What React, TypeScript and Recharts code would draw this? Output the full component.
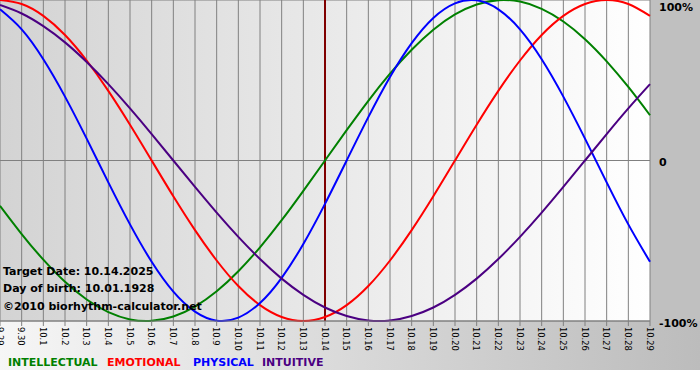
import React from 'react';
import { LineChart, Line, XAxis, YAxis, CartesianGrid, ReferenceLine } from 'recharts';

const dates = ['9.29', '9.30', '10.1', '10.2', '10.3', '10.4', '10.5', '10.6', '10.7', '10.8', '10.9', '10.10', '10.11', '10.12', '10.13', '10.14', '10.15', '10.16', '10.17', '10.18', '10.19', '10.20', '10.21', '10.22', '10.23', '10.24', '10.25', '10.26', '10.27', '10.28', '10.29'];

const intellectual = [-28.2, -45.8, -61.8, -75.6, -86.6, -94.5, -99.0, -99.9, -97.2, -91.0, -81.5, -69.0, -54.1, -37.2, -18.9, 0, 18.9, 37.2, 54.1, 69.0, 81.5, 91.0, 97.2, 99.9, 99.0, 94.5, 86.6, 75.6, 61.8, 45.8, 28.2];
const emotional = [100, 97.5, 90.1, 78.2, 62.3, 43.4, 22.3, 0, -22.3, -43.4, -62.3, -78.2, -90.1, -97.5, -100, -97.5, -90.1, -78.2, -62.3, -43.4, -22.3, 0, 22.3, 43.4, 62.3, 78.2, 90.1, 97.5, 100, 97.5, 90.1];
const physical = [94.2, 81.7, 63.1, 39.8, 13.6, -13.6, -39.8, -63.1, -81.7, -94.2, -99.8, -97.9, -88.8, -73.1, -52.0, -27.0, 0, 27.0, 52.0, 73.1, 88.8, 97.9, 99.8, 94.2, 81.7, 63.1, 39.8, 13.6, -13.6, -39.8, -63.1];
const intuitive = [96.9, 91.6, 83.7, 73.6, 61.4, 47.6, 32.5, 16.5, 0, -16.5, -32.5, -47.6, -61.4, -73.6, -83.7, -91.6, -96.9, -99.7, -99.7, -96.9, -91.6, -83.7, -73.6, -61.4, -47.6, -32.5, -16.5, 0, 16.5, 32.5, 47.6];

const yTicks = [-100, 0, 100];
const yTickLabels: Record<number, string> = { 100: '100%', 0: '0', [-100]: '-100%' };
const targetDate = '10.14';
const infoLines = ['Target Date: 10.14.2025', 'Day of birth: 10.01.1928', '\u00A92010 biorhythm-calculator.net'];
const legendItems = [
  { name: 'INTELLECTUAL', color: '#008000' },
  { name: 'EMOTIONAL', color: '#ff0000' },
  { name: 'PHYSICAL', color: '#0000ff' },
  { name: 'INTUITIVE', color: '#4b0082' },
];

const data = dates.map((d, i) => ({
  date: d,
  intellectual: intellectual[i],
  emotional: emotional[i],
  physical: physical[i],
  intuitive: intuitive[i],
}));

const BOLD = "'DejaVu Sans', Verdana, sans-serif";

const XTick = (props: any) => {
  const { x, y, payload } = props;
  return (
    <g transform={`translate(${x},${y}) rotate(90)`}>
      <text x={0} y={0} dy={3.2} textAnchor="start" fontFamily="'DejaVu Sans', Verdana, sans-serif" fontSize={8.3} fill="#000">
        {payload.value}
      </text>
    </g>
  );
};

const YTick = (props: any) => {
  const { y, payload } = props;
  const v = payload.value;
  const baseline = v === 100 ? 11 : y + 5.5;
  return (
    <text x={659} y={baseline} textAnchor="start" fontFamily={BOLD} fontWeight="bold" fontSize={11} fill="#000">
      {yTickLabels[v]}
    </text>
  );
};

export default function App() {
  const infoBaselines = [275, 292, 310];
  const legendX = [8, 107, 193, 262];
  return (
    <div style={{ position: 'absolute', left: 0, top: 0, width: 700, height: 380, background: '#ffffff' }}>
      <div style={{ position: 'absolute', left: 0, top: 0, width: 650, height: 321, background: 'linear-gradient(to right, #d3d3d3, #ffffff)' }} />
      <div style={{ position: 'absolute', left: 650, top: 0, width: 50, height: 321, background: '#c0c0c0' }} />
      <div style={{ position: 'absolute', left: 0, top: 321, width: 700, height: 49, background: 'linear-gradient(to right, #f6f6f6, #bcbcbc)' }} />
      <div style={{ position: 'absolute', left: 0, top: 0 }}>
        <LineChart width={700} height={380} data={data} margin={{ top: 0, right: 0, left: 0, bottom: 0 }}>
          <CartesianGrid stroke="#808080" strokeWidth={1} />
          <XAxis
            dataKey="date"
            interval={0}
            height={59}
            tick={<XTick />}
            tickSize={5}
            tickMargin={1}
            stroke="#808080"
            axisLine={{ stroke: '#808080' }}
            tickLine={{ stroke: '#808080' }}
          />
          <YAxis
            orientation="right"
            width={50}
            domain={[-100, 100]}
            ticks={yTicks}
            axisLine={false}
            tickLine={false}
            tick={<YTick />}
          />
          <ReferenceLine x={targetDate} stroke="#800000" strokeWidth={2} />
          <Line type="natural" dataKey="intellectual" stroke="#008000" strokeWidth={2} dot={false} activeDot={false} isAnimationActive={false} />
          <Line type="natural" dataKey="emotional" stroke="#ff0000" strokeWidth={2} dot={false} activeDot={false} isAnimationActive={false} />
          <Line type="natural" dataKey="physical" stroke="#0000ff" strokeWidth={2} dot={false} activeDot={false} isAnimationActive={false} />
          <Line type="natural" dataKey="intuitive" stroke="#4b0082" strokeWidth={2} dot={false} activeDot={false} isAnimationActive={false} />
        </LineChart>
      </div>
      <svg width={700} height={380} style={{ position: 'absolute', left: 0, top: 0, pointerEvents: 'none' }}>
        {infoLines.map((t, i) => (
          <text key={t} x={3} y={infoBaselines[i]} fontFamily={BOLD} fontWeight="bold" fontSize={11} fill="#000">
            {t}
          </text>
        ))}
        {legendItems.map((it, i) => (
          <text key={it.name} x={legendX[i]} y={365.5} fontFamily={BOLD} fontWeight="bold" fontSize={11} fill={it.color}>
            {it.name}
          </text>
        ))}
      </svg>
    </div>
  );
}
